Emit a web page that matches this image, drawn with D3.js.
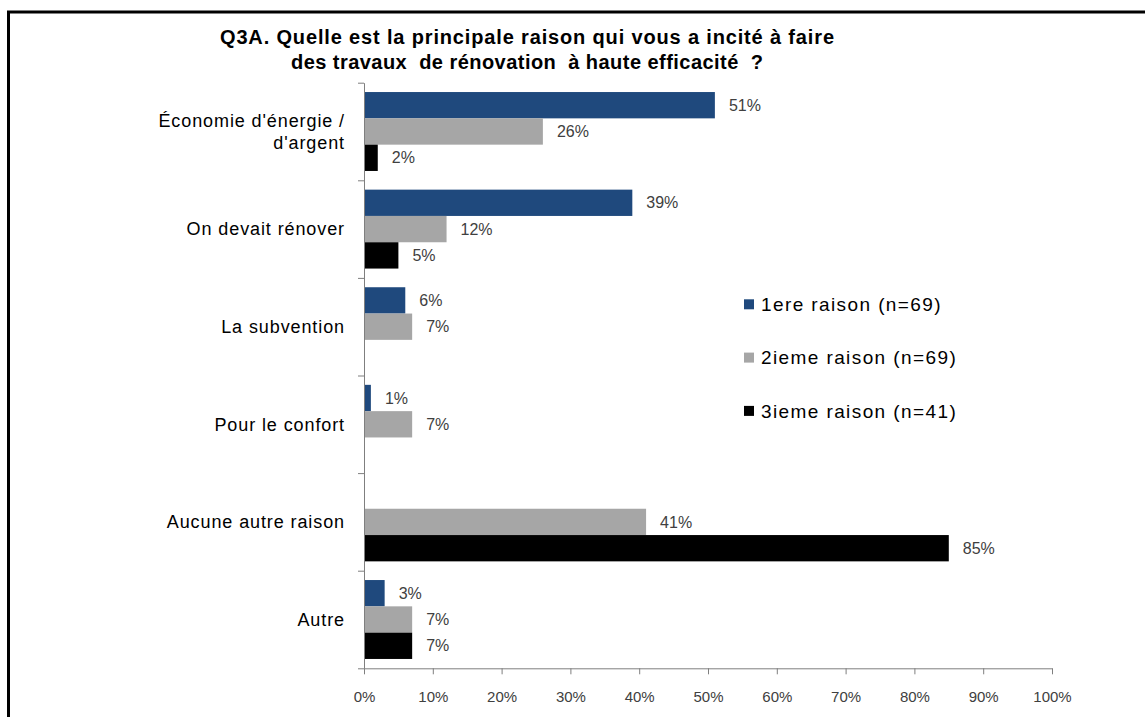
<!DOCTYPE html>
<html>
<head>
<meta charset="utf-8">
<script src="https://cdn.jsdelivr.net/npm/d3@7"></script>
<style>
  body { margin: 0; background: #fff; }
  svg { display: block; font-family: "Liberation Sans", Arial, sans-serif; }
</style>
</head>
<body>
<script>
// data
var titleLines = ["Q3A. Quelle est la principale raison qui vous a incité à faire",
                  "des travaux  de rénovation  à haute efficacité  ?"];
var categories = [["Économie d'énergie /", "d'argent"], ["On devait rénover"], ["La subvention"],
                  ["Pour le confort"], ["Aucune autre raison"], ["Autre"]];
var seriesNames = ["1ere raison (n=69)", "2ieme raison (n=69)", "3ieme raison (n=41)"];
var seriesColors = ["#1f497d", "#a6a6a6", "#000000"];
var first = [51, 39, 6, 1, null, 3];
var second = [26, 12, 7, 7, 41, 7];
var third = [2, 5, null, null, 85, 7];
var xTicks = [0, 10, 20, 30, 40, 50, 60, 70, 80, 90, 100];

var width = 1145, height = 717;
var series = [first, second, third];

var svg = d3.select("body").append("svg")
  .attr("width", width)
  .attr("height", height);

// outer frame (runs off right & bottom edge)
svg.append("rect")
  .attr("x", 8.5).attr("y", 12)
  .attr("width", 1200).attr("height", 800)
  .attr("fill", "none")
  .attr("stroke", "#000")
  .attr("stroke-width", 3);

var x = d3.scaleLinear().domain([0, 100]).range([364, 1052]);
var yIdx = d3.scaleLinear().domain([0, categories.length]).range([82.7, 668.3]);
var y = d3.scaleBand().domain(d3.range(categories.length)).range([82.7, 668.3]);
var ySub = d3.scaleBand().domain(d3.range(series.length))
  .range([0, y.bandwidth()]).paddingOuter(0.355);

// title (widths stretched a little to match the wide original rendering)
var titleWidths = [614, 472];
svg.append("g").selectAll("text")
  .data(titleLines)
  .join("text")
  .attr("x", function(d, i) { return 527 - titleWidths[i] / 2; })
  .attr("y", function(d, i) { return 43.5 + i * 25.5; })
  .attr("font-size", 20)
  .attr("font-weight", "bold")
  .attr("fill", "#000")
  .attr("xml:space", "preserve")
  .attr("textLength", function(d, i) { return titleWidths[i]; })
  .attr("lengthAdjust", "spacing")
  .text(function(d) { return d; });

// bars
var groups = svg.append("g").selectAll("g")
  .data(series)
  .join("g")
  .attr("fill", function(d, i) { return seriesColors[i]; });

groups.each(function(vals, si) {
  var pts = vals.map(function(v, ci) { return {v: v, ci: ci}; })
    .filter(function(p) { return p.v != null; });
  d3.select(this).selectAll("rect")
    .data(pts)
    .join("rect")
    .attr("x", x(0))
    .attr("y", function(p) { return y(p.ci) + ySub(si); })
    .attr("width", function(p) { return x(p.v) - x(0); })
    .attr("height", ySub.bandwidth());
  d3.select(this).selectAll("text")
    .data(pts)
    .join("text")
    .attr("x", function(p) { return x(p.v) + 14; })
    .attr("y", function(p) { return y(p.ci) + ySub(si) + ySub.bandwidth() / 2; })
    .attr("dy", "0.35em")
    .attr("font-size", 16)
    .attr("fill", "#404040")
    .text(function(p) { return p.v + "%"; });
});

// x axis
var xAxis = svg.append("g")
  .attr("transform", "translate(0," + 668.3 + ")")
  .call(d3.axisBottom(x).tickValues(xTicks)
    .tickFormat(function(d) { return d + "%"; })
    .tickSize(6).tickPadding(17).tickSizeOuter(0));
xAxis.select(".domain").attr("stroke", "#7f7f7f");
xAxis.selectAll(".tick line").attr("stroke", "#7f7f7f");
xAxis.selectAll(".tick text")
  .attr("font-size", 15)
  .attr("font-family", "Liberation Sans, Arial, sans-serif")
  .attr("fill", "#404040");

// y axis: ticks sit between categories
var yAxis = svg.append("g")
  .attr("transform", "translate(" + x(0) + ",0)")
  .call(d3.axisLeft(yIdx).tickValues(d3.range(categories.length + 1))
    .tickFormat("").tickSize(6).tickSizeOuter(0));
yAxis.select(".domain").attr("stroke", "#7f7f7f");
yAxis.selectAll(".tick line").attr("stroke", "#7f7f7f");

// category labels
var cat = svg.append("g").selectAll("text")
  .data(categories)
  .join("text")
  .attr("x", 345)
  .attr("y", function(d, i) { return y(i) + y.bandwidth() / 2; })
  .attr("text-anchor", "end")
  .attr("font-size", 18)
  .attr("letter-spacing", 0.9)
  .attr("fill", "#000");
cat.selectAll("tspan")
  .data(function(d) { return d.map(function(line, k) { return {line: line, k: k, n: d.length}; }); })
  .join("tspan")
  .attr("x", 345)
  .attr("dy", function(t) { return t.k === 0 ? (0.35 - (t.n - 1) * 0.6) + "em" : "1.2em"; })
  .text(function(t) { return t.line; });

// legend
var legend = svg.append("g").selectAll("g")
  .data(seriesNames)
  .join("g")
  .attr("transform", function(d, i) { return "translate(744," + (304.3 + i * 53.3) + ")"; });
legend.append("rect")
  .attr("x", 0).attr("y", -5)
  .attr("width", 10).attr("height", 10)
  .attr("fill", function(d, i) { return seriesColors[i]; });
legend.append("text")
  .attr("x", 17)
  .attr("dy", "0.35em")
  .attr("font-size", 19)
  .attr("letter-spacing", 1.4)
  .attr("fill", "#000")
  .text(function(d) { return d; });
</script>
</body>
</html>
